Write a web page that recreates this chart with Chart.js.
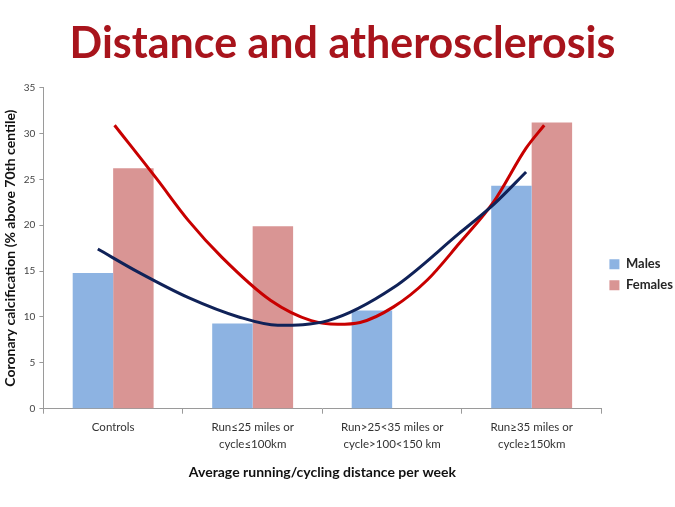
<!DOCTYPE html>
<html>
<head>
<meta charset="utf-8">
<script src="https://cdn.jsdelivr.net/npm/chart.js@4/dist/chart.umd.min.js"></script>
<style>
    html, body { margin: 0; padding: 0; background: #ffffff; }
    #wrap { width: 675px; height: 507px; position: relative; }
</style>
</head>
<body>
<div id="wrap"><canvas id="chart"></canvas></div>
<script>
// data
const categories = [
    'Controls',
    ['Run\u226425 miles or', 'cycle\u2264100km'],
    ['Run>25<35 miles or', 'cycle>100<150 km'],
    ['Run\u226535 miles or', 'cycle\u2265150km']
];
const males = [14.8, 9.3, 10.7, 24.3];
const females = [26.2, 19.9, null, 31.2];

// trend curves, sampled along the drawn lines (x = category position)
const malesTrendX = [-0.11, 0.19, 0.54, 0.9, 1.18, 1.54, 2.01, 2.48, 2.73, 2.96];
const malesTrendY = [17.4, 14.8, 12.1, 10.0, 9.1, 9.6, 13.2, 19.1, 22.3, 25.8];
const femalesTrendX = [0.01, 0.31, 0.54, 0.78, 1.13, 1.42, 1.61, 1.77, 2.01, 2.25, 2.48, 2.73, 2.96, 3.09];
const femalesTrendY = [30.9, 25.1, 20.5, 16.5, 11.8, 9.6, 9.2, 9.4, 11.1, 14.0, 18.0, 22.6, 28.4, 30.9];

const yTicks = { min: 0, max: 35, step: 5 };

const font = "'Lato', 'Open Sans', sans-serif";

const toPoints = (xs, ys) => xs.map((x, i) => ({ x: x, y: ys[i] }));

new Chart(document.getElementById('chart'), {
    data: {
        labels: categories,
        datasets: [
            {
                type: 'line',
                label: 'Males trend',
                xAxisID: 'xLin',
                yAxisID: 'y',
                data: toPoints(malesTrendX, malesTrendY),
                borderColor: '#102258',
                borderWidth: 3,
                pointRadius: 0,
                cubicInterpolationMode: 'monotone',
                fill: false,
                order: 0
            },
            {
                type: 'line',
                label: 'Females trend',
                xAxisID: 'xLin',
                yAxisID: 'y',
                data: toPoints(femalesTrendX, femalesTrendY),
                borderColor: '#c80000',
                borderWidth: 3,
                pointRadius: 0,
                cubicInterpolationMode: 'monotone',
                fill: false,
                order: 0
            },
            {
                type: 'bar',
                label: 'Males',
                xAxisID: 'x',
                yAxisID: 'y',
                data: males,
                backgroundColor: '#8db3e2',
                categoryPercentage: 1.16,
                barPercentage: 1.0,
                order: 1
            },
            {
                type: 'bar',
                label: 'Females',
                xAxisID: 'x',
                yAxisID: 'y',
                data: females,
                backgroundColor: '#d99594',
                categoryPercentage: 1.16,
                barPercentage: 1.0,
                order: 1
            }
        ]
    },
    options: {
        responsive: true,
        maintainAspectRatio: false,
        animation: false,
        layout: { padding: { left: 2, right: -8, top: 8, bottom: 22 } },
        plugins: {
            title: {
                display: true,
                text: 'Distance and atherosclerosis',
                color: '#a8141c',
                font: { family: font, size: 43, weight: 'bold' },
                padding: { top: 10, bottom: 18 }
            },
            legend: {
                position: 'right',
                title: { display: true, text: ' ', padding: { top: 0, bottom: 42 }, font: { size: 12 } },
                labels: {
                    filter: item => item.text === 'Males' || item.text === 'Females',
                    color: '#262626',
                    boxWidth: 10,
                    boxHeight: 10,
                    padding: 8,
                    font: { family: font, size: 13, weight: 'bold' }
                }
            },
            tooltip: { enabled: false }
        },
        scales: {
            x: {
                type: 'category',
                grid: { display: true, drawOnChartArea: false, offset: true, color: '#9a9a9a', tickLength: 5 },
                border: { color: '#9a9a9a' },
                ticks: { color: '#333', font: { family: font, size: 11.5, lineHeight: 1.5 }, maxRotation: 0, padding: 5 },
                title: {
                    display: true,
                    text: 'Average running/cycling distance per week',
                    color: '#111',
                    font: { family: font, size: 14, weight: 'bold' },
                    padding: { top: 6 }
                }
            },
            xLin: {
                type: 'linear',
                display: false,
                min: -0.5,
                max: 3.5
            },
            y: {
                min: yTicks.min,
                max: yTicks.max,
                ticks: { stepSize: yTicks.step, color: '#444', font: { family: font, size: 10 }, padding: 4 },
                grid: { display: true, drawOnChartArea: false, color: '#9a9a9a', tickLength: 4 },
                border: { color: '#9a9a9a' },
                title: {
                    display: true,
                    text: 'Coronary calcification (% above 70th centile)',
                    color: '#111',
                    font: { family: font, size: 14, weight: 'bold' },
                    padding: { top: 0, bottom: 1 }
                }
            }
        }
    }
});
</script>
</body>
</html>
